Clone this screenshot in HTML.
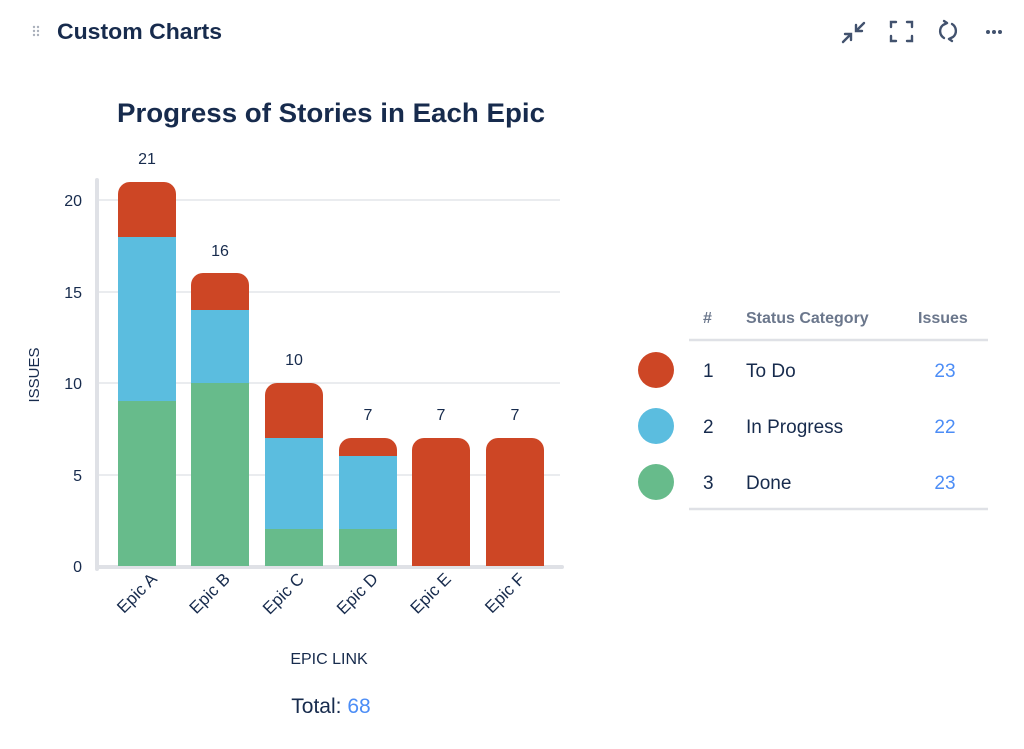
<!DOCTYPE html>
<html><head><style>
body{margin:0;background:#fff;width:1024px;height:744px;overflow:hidden;font-family:"Liberation Sans",sans-serif;}
</style></head><body>
<svg width="1024" height="744" xmlns="http://www.w3.org/2000/svg" font-family="Liberation Sans, sans-serif">
<g fill="#aab0bb"><circle cx="34" cy="27" r="1.2"/><circle cx="38" cy="27" r="1.2"/><circle cx="34" cy="31" r="1.2"/><circle cx="38" cy="31" r="1.2"/><circle cx="34" cy="35" r="1.2"/><circle cx="38" cy="35" r="1.2"/></g>
<text x="57" y="39" font-size="22" font-weight="bold" fill="#172b4d" textLength="165" lengthAdjust="spacingAndGlyphs">Custom Charts</text>
<g stroke="#42526e" stroke-width="2.4" fill="none" stroke-linecap="round">
<path d="M843 42 L851 34 M845 34 h6 v6 M864 23 L856 31 M856 25 v6 h6"/>
<path d="M891 27 v-5 h5 M907 22 h5 v5 M912 36 v5 h-5 M896 41 h-5 v-5"/>
<path d="M944 38 a8 8 0 0 1 -1 -13 l4 -2 M947 23 l-3 -2 M952 24 a8 8 0 0 1 1 13 l-4 2 M949 39 l3 2"/>
</g>
<g fill="#42526e"><circle cx="988" cy="32" r="2"/><circle cx="994" cy="32" r="2"/><circle cx="1000" cy="32" r="2"/></g>
<text x="117" y="122" font-size="27" font-weight="bold" fill="#172b4d" textLength="428" lengthAdjust="spacingAndGlyphs">Progress of Stories in Each Epic</text>
<g stroke="#e4e6ea" stroke-width="1.5"><line x1="98" y1="200" x2="560" y2="200"/><line x1="98" y1="292" x2="560" y2="292"/><line x1="98" y1="383" x2="560" y2="383"/><line x1="98" y1="475" x2="560" y2="475"/></g>
<line x1="97" y1="180" x2="97" y2="569" stroke="#dfe1e6" stroke-width="4" stroke-linecap="round"/>
<line x1="97" y1="567" x2="562" y2="567" stroke="#dfe1e6" stroke-width="4" stroke-linecap="round"/>
<g font-size="16" fill="#172b4d" text-anchor="end"><text x="82" y="206">20</text><text x="82" y="298">15</text><text x="82" y="389">10</text><text x="82" y="481">5</text><text x="82" y="572">0</text></g>
<text transform="translate(39,375) rotate(-90)" font-size="15" fill="#172b4d" text-anchor="middle">ISSUES</text>
<g>
<rect x="118" y="401" width="58" height="165" fill="#67bb8b"/><rect x="118" y="237" width="58" height="164" fill="#5bbddf"/><path d="M118 237 V194 a12 12 0 0 1 12 -12 h34 a12 12 0 0 1 12 12 V237 Z" fill="#cd4625"/>
<rect x="191" y="383" width="58" height="183" fill="#67bb8b"/><rect x="191" y="310" width="58" height="73" fill="#5bbddf"/><path d="M191 310 V285 a12 12 0 0 1 12 -12 h34 a12 12 0 0 1 12 12 V310 Z" fill="#cd4625"/>
<rect x="265" y="529" width="58" height="37" fill="#67bb8b"/><rect x="265" y="438" width="58" height="91" fill="#5bbddf"/><path d="M265 438 V395 a12 12 0 0 1 12 -12 h34 a12 12 0 0 1 12 12 V438 Z" fill="#cd4625"/>
<rect x="339" y="529" width="58" height="37" fill="#67bb8b"/><rect x="339" y="456" width="58" height="73" fill="#5bbddf"/><path d="M339 456 V450 a12 12 0 0 1 12 -12 h34 a12 12 0 0 1 12 12 V456 Z" fill="#cd4625"/>
<path d="M412 566 V450 a12 12 0 0 1 12 -12 h34 a12 12 0 0 1 12 12 V566 Z" fill="#cd4625"/>
<path d="M486 566 V450 a12 12 0 0 1 12 -12 h34 a12 12 0 0 1 12 12 V566 Z" fill="#cd4625"/>
</g>
<g font-size="16" fill="#172b4d" text-anchor="middle"><text x="147" y="164">21</text><text x="220" y="256">16</text><text x="294" y="365">10</text><text x="368" y="420">7</text><text x="441" y="420">7</text><text x="515" y="420">7</text></g>
<g font-size="17" fill="#172b4d" text-anchor="end">
<text transform="translate(158,580) rotate(-45)">Epic A</text>
<text transform="translate(231,580) rotate(-45)">Epic B</text>
<text transform="translate(305,580) rotate(-45)">Epic C</text>
<text transform="translate(379,580) rotate(-45)">Epic D</text>
<text transform="translate(452,580) rotate(-45)">Epic E</text>
<text transform="translate(526,580) rotate(-45)">Epic F</text>
</g>
<text x="329" y="664" font-size="16" fill="#172b4d" text-anchor="middle">EPIC LINK</text>
<text x="331" y="713" font-size="21" fill="#172b4d" text-anchor="middle">Total: <tspan fill="#4c8df6">68</tspan></text>
<g font-size="16" font-weight="bold" fill="#6b778c"><text x="703" y="323">#</text><text x="746" y="323">Status Category</text><text x="918" y="323">Issues</text></g>
<line x1="689" y1="340" x2="988" y2="340" stroke="#dfe1e6" stroke-width="2.5"/>
<line x1="689" y1="509" x2="988" y2="509" stroke="#dfe1e6" stroke-width="2.5"/>
<circle cx="656" cy="370" r="18" fill="#cd4625"/><circle cx="656" cy="426" r="18" fill="#5bbddf"/><circle cx="656" cy="482" r="18" fill="#67bb8b"/>
<g font-size="19" fill="#172b4d"><text x="703" y="377">1</text><text x="746" y="377">To Do</text><text x="703" y="433">2</text><text x="746" y="433">In Progress</text><text x="703" y="489">3</text><text x="746" y="489">Done</text></g>
<g font-size="19" fill="#4c8df6" text-anchor="middle"><text x="945" y="377">23</text><text x="945" y="433">22</text><text x="945" y="489">23</text></g>
</svg>
</body></html>
